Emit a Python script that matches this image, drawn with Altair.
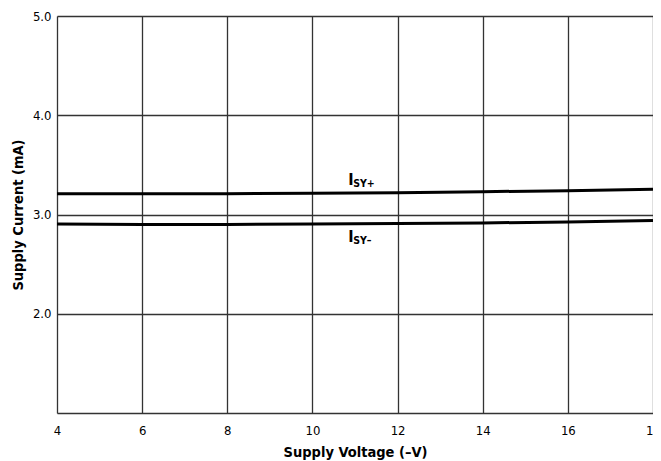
import altair as alt
import pandas as pd

voltage = [4, 6, 8, 10, 12, 14, 16, 18]
isy_plus = [3.21, 3.21, 3.21, 3.215, 3.22, 3.23, 3.24, 3.255]
isy_minus = [2.905, 2.90, 2.90, 2.905, 2.91, 2.915, 2.925, 2.94]

label_main = ["I", "I"]
label_sub = ["SY+", "SY–"]
label_x = [10.84, 10.84]
label_y = [3.30, 2.718]

x_ticks = [4, 6, 8, 10, 12, 14, 16, 18]
y_ticks = [1, 2, 3, 4, 5]

FONT = "'DejaVu Sans Condensed', 'Liberation Sans', sans-serif"

df = pd.DataFrame({
    "v": voltage * 2,
    "i": isy_plus + isy_minus,
    "s": ["plus"] * len(voltage) + ["minus"] * len(voltage),
})
lab = pd.DataFrame({"x": label_x, "y": label_y, "m": label_main, "sub": label_sub})

xs = alt.Scale(domain=[4, 18], nice=False, zero=False)
ys = alt.Scale(domain=[1, 5], nice=False, zero=False)

xaxis = alt.Axis(values=x_ticks, format="d", title="Supply Voltage (–V)", grid=True,
                 gridColor="#333333", gridWidth=1.3, ticks=False, domain=False,
                 labelFont=FONT, labelFontSize=13, labelColor="#000", labelPadding=11,
                 titleFont=FONT, titleFontSize=14.5, titleFontWeight="bold", titleColor="#000",
                 titlePadding=8, labelFlush=False)
yaxis = alt.Axis(values=y_ticks, title="Supply Current (mA)", grid=True,
                 gridColor="#333333", gridWidth=1.3, ticks=False, domain=False,
                 labelExpr="datum.value == 1 ? '' : format(datum.value, '.1f')",
                 labelFont=FONT, labelFontSize=13, labelColor="#000", labelPadding=6,
                 titleFont=FONT, titleFontSize=14.5, titleFontWeight="bold", titleColor="#000",
                 titlePadding=7)

lines = alt.Chart(df).mark_line(color="black", strokeWidth=3).encode(
    x=alt.X("v:Q", scale=xs, axis=xaxis),
    y=alt.Y("i:Q", scale=ys, axis=yaxis),
    detail="s:N",
)

main_txt = alt.Chart(lab).mark_text(font=FONT, fontSize=16, fontWeight="bold",
                                    align="left", baseline="alphabetic", color="black").encode(
    x=alt.X("x:Q", scale=xs), y=alt.Y("y:Q", scale=ys), text="m:N")
sub_txt = alt.Chart(lab).mark_text(font=FONT, fontSize=10.5, fontWeight="bold",
                                   align="left", baseline="alphabetic", color="black",
                                   dx=5, dy=2).encode(
    x=alt.X("x:Q", scale=xs), y=alt.Y("y:Q", scale=ys), text="sub:N")

chart = alt.layer(lines, main_txt, sub_txt).properties(
    width=596, height=397,
    autosize=alt.AutoSizeParams(type="none"),
    padding={"left": 49, "top": 8, "right": 0, "bottom": 48},
).configure_view(stroke="#333333", strokeWidth=1.5).configure(background="white")

chart.save("out.html", embed_options={"renderer": "svg", "actions": False})
